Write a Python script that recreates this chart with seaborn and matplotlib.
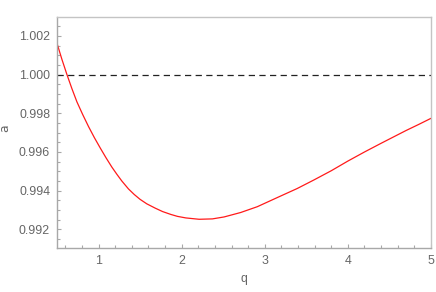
import numpy as np
import pandas as pd
import matplotlib
matplotlib.use("Agg")
import matplotlib.pyplot as plt
import seaborn as sns
from matplotlib.ticker import MultipleLocator, FormatStrFormatter

# values
q = [0.50, 0.56, 0.62, 0.68, 0.74, 0.81, 0.88, 0.95, 1.02, 1.09, 1.16,
     1.22, 1.28, 1.36, 1.43, 1.50, 1.58, 1.68, 1.77, 1.87, 1.95, 2.05,
     2.21, 2.37, 2.51, 2.71, 2.91, 3.19, 3.39, 3.59, 3.80, 4.00, 4.20,
     4.40, 4.70, 4.85, 5.00]
a_bar = [1.00162, 1.00078, 1.00000, 0.99927, 0.99859, 0.99793, 0.99731,
         0.99674, 0.99621, 0.99570, 0.99522, 0.99485, 0.99450, 0.99409,
         0.99380, 0.99355, 0.99332, 0.99310, 0.99292, 0.99277, 0.99267,
         0.99259, 0.99252, 0.99254, 0.99264, 0.99287, 0.99317, 0.99372,
         0.99411, 0.99455, 0.99503, 0.99553, 0.99600, 0.99645, 0.99711,
         0.99742, 0.99774]
ref_level = 1.0

df = pd.DataFrame({"q": q, "a": a_bar})

sns.set_style("white")
plt.rcParams["font.family"] = ["Liberation Sans", "DejaVu Sans"]

fig = plt.figure(figsize=(4.36, 2.92), dpi=100)
ax = fig.add_axes([0.1307, 0.1497, 0.8578, 0.7921])

sns.lineplot(data=df, x="q", y="a", color="#ff1a1a", linewidth=0.9, ax=ax)
ax.axhline(ref_level, color="#222222", linestyle=(0, (5, 3.5)), linewidth=0.9)

ax.set_xlim(0.5, 5.0)
ax.set_ylim(0.99102, 1.00298)

ax.xaxis.set_major_locator(MultipleLocator(1))
ax.xaxis.set_minor_locator(MultipleLocator(0.2))
ax.yaxis.set_major_locator(MultipleLocator(0.002))
ax.yaxis.set_minor_locator(MultipleLocator(0.0005))
ax.yaxis.set_major_formatter(FormatStrFormatter("%.3f"))
ax.xaxis.set_major_formatter(FormatStrFormatter("%d"))

gray = "#a8a8a8"
ax.tick_params(which="both", direction="in", color=gray, width=0.8,
               bottom=True, left=True, top=False, right=False,
               labelcolor="#666666", labelsize=8.9)
ax.tick_params(which="major", length=3.2, pad=5)
ax.tick_params(which="minor", length=1.9)

for s in ["left", "bottom"]:
    ax.spines[s].set_color(gray)
    ax.spines[s].set_linewidth(1.0)
for s in ["top", "right"]:
    ax.spines[s].set_color("#c4c4c4")
    ax.spines[s].set_linewidth(1.0)

ax.set_xlabel("q", color="#666666", fontsize=8.9)
ax.xaxis.set_label_coords(0.5, -0.105)
ax.set_ylabel(r"$\overline{\mathrm{a}}$", color="#666666", fontsize=8.9)
ax.yaxis.set_label_coords(-0.117, 0.52)

fig.savefig("out.png", dpi=100)
